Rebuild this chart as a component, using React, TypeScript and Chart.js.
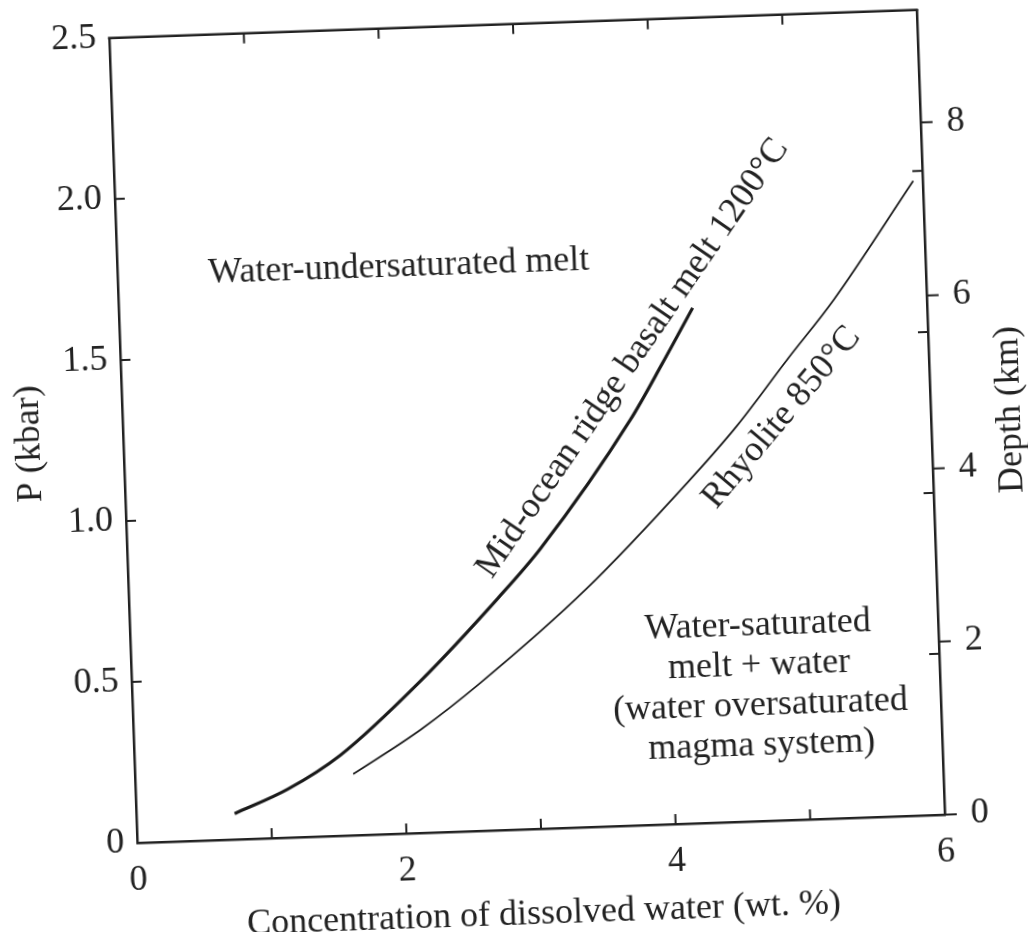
import React, { useEffect, useRef } from 'react';
import { Chart, registerables } from 'chart.js';

Chart.register(...registerables);

// ---- data ----
const morbWater = [0.73, 1.13, 1.53, 2.14, 2.74, 3.07, 3.77, 4.02, 4.26];
const morbPressure = [0.08, 0.15, 0.25, 0.47, 0.72, 0.87, 1.26, 1.43, 1.6];
const rhyoliteWater = [1.62, 2.13, 2.59, 3.4, 4.18, 4.56, 4.95, 5.31, 5.93];
const rhyolitePressure = [0.19, 0.32, 0.46, 0.74, 1.06, 1.23, 1.43, 1.61, 1.97];

const xTickLabels = ['0', '', '2', '', '4', '', '6'];
const pressureTickLabels = ['0', '0.5', '1.0', '1.5', '2.0', '2.5'];
const depthTickLabels = ['0', '2', '4', '6', '8'];
const KM_PER_KBAR = 3.72;

const xTitle = 'Concentration of dissolved water (wt. %)';
const yTitle = 'P (kbar)';
const y2Title = 'Depth (km)';

const regionLabels = [
  { lines: ['Water-undersaturated melt'], x: 2.09, y: 1.76, angle: 0 },
  { lines: ['Water-saturated', 'melt + water', '(water oversaturated', 'magma system)'], x: 4.66, y: 0.421, angle: 0 },
  { lines: ['Mid-ocean ridge basalt melt 1200°C'], x: 3.8, y: 1.45, angle: -53.5 },
  { lines: ['Rhyolite 850°C'], x: 4.89, y: 1.25, angle: -48 },
];

const INK = '#222222';
const FONT = '"Liberation Serif", "Times New Roman", serif';

const decorPlugin = {
  id: 'decor',
  afterDraw(chart: any) {
    const { ctx, chartArea } = chart;
    const { left, right, top, bottom } = chartArea;
    const xs = chart.scales.x;
    const ys = chart.scales.y;
    const ds = chart.scales.y2;
    ctx.save();
    ctx.strokeStyle = INK;
    ctx.lineCap = 'butt';
    // top border
    ctx.lineWidth = 2.5;
    ctx.beginPath();
    ctx.moveTo(left - 1.25, top);
    ctx.lineTo(right + 1.25, top);
    ctx.stroke();
    // inward ticks
    ctx.lineWidth = 2;
    const tl = 10;
    xs.ticks.forEach((t: any) => {
      if (t.value <= xs.min || t.value >= xs.max) return;
      const px = xs.getPixelForValue(t.value);
      ctx.beginPath();
      ctx.moveTo(px, bottom);
      ctx.lineTo(px, bottom - tl);
      ctx.moveTo(px, top);
      ctx.lineTo(px, top + tl);
      ctx.stroke();
    });
    ys.ticks.forEach((t: any) => {
      if (t.value <= ys.min || t.value >= ys.max) return;
      const py = ys.getPixelForValue(t.value);
      ctx.beginPath();
      ctx.moveTo(left, py);
      ctx.lineTo(left + tl, py);
      ctx.moveTo(right, py);
      ctx.lineTo(right - tl, py);
      ctx.stroke();
    });
    // outward depth ticks on the right
    ds.ticks.forEach((t: any) => {
      const py = ds.getPixelForValue(t.value);
      ctx.beginPath();
      ctx.moveTo(right, py);
      ctx.lineTo(right + 12, py);
      ctx.stroke();
    });
    // region / curve labels
    ctx.fillStyle = INK;
    ctx.font = `36px ${FONT}`;
    ctx.textAlign = 'center';
    ctx.textBaseline = 'middle';
    regionLabels.forEach((lab) => {
      const px = xs.getPixelForValue(lab.x);
      const py = ys.getPixelForValue(lab.y);
      ctx.save();
      ctx.translate(px, py);
      ctx.rotate((lab.angle * Math.PI) / 180);
      const lh = 40;
      const n = lab.lines.length;
      lab.lines.forEach((line, i) => {
        ctx.fillText(line, 0, (i - (n - 1) / 2) * lh);
      });
      ctx.restore();
    });
    // right axis title, reading bottom to top
    ctx.save();
    ctx.translate(right + 80, (top + bottom) / 2);
    ctx.rotate(-Math.PI / 2);
    ctx.fillText(y2Title, 0, 0);
    ctx.restore();
    ctx.restore();
  },
};

export default function App() {
  const ref = useRef<HTMLCanvasElement | null>(null);
  useEffect(() => {
    if (!ref.current) return;
    const tickFont = { family: FONT, size: 36, lineHeight: 0.88 };
    const titleFont = { family: FONT, size: 36 };
    const chart = new Chart(ref.current, {
      type: 'line',
      data: {
        datasets: [
          {
            label: 'Mid-ocean ridge basalt melt 1200°C',
            data: morbWater.map((x, i) => ({ x, y: morbPressure[i] })),
            borderColor: '#1a1a1a',
            borderWidth: 3.2,
            pointRadius: 0,
            cubicInterpolationMode: 'monotone',
            fill: false,
          },
          {
            label: 'Rhyolite 850°C',
            data: rhyoliteWater.map((x, i) => ({ x, y: rhyolitePressure[i] })),
            borderColor: '#1a1a1a',
            borderWidth: 1.8,
            pointRadius: 0,
            cubicInterpolationMode: 'monotone',
            fill: false,
          },
        ],
      },
      options: {
        animation: false,
        responsive: false,
        maintainAspectRatio: false,
        devicePixelRatio: 1,
        layout: { padding: { left: 0, right: 0, top: 0, bottom: 0 } },
        plugins: { legend: { display: false }, tooltip: { enabled: false }, title: { display: false } },
        scales: {
          x: {
            type: 'linear',
            min: 0,
            max: 6,
            afterFit: (s: any) => {
              s.height = 103;
            },
            ticks: {
              stepSize: 1,
              autoSkip: false,
              maxRotation: 0,
              padding: 22,
              color: INK,
              font: tickFont,
              callback: (_v: any, i: number) => xTickLabels[i],
            },
            grid: { display: false, drawTicks: false },
            border: { display: true, color: INK, width: 2.5 },
            title: { display: true, text: xTitle, color: INK, font: titleFont, padding: { top: 0, bottom: -4 } },
          },
          y: {
            type: 'linear',
            position: 'left',
            min: 0,
            max: 2.5,
            afterFit: (s: any) => {
              s.width = 115;
            },
            ticks: {
              stepSize: 0.5,
              autoSkip: false,
              padding: 0,
              color: INK,
              font: tickFont,
              callback: (_v: any, i: number) => pressureTickLabels[i],
            },
            grid: { display: false, drawTicks: true, tickLength: 13 },
            border: { display: true, color: INK, width: 2.5 },
            title: { display: true, text: yTitle, color: INK, font: titleFont, padding: { top: 0, bottom: 0 } },
          },
          y2: {
            type: 'linear',
            position: 'right',
            display: true,
            min: 0,
            max: 2.5 * KM_PER_KBAR,
            afterFit: (s: any) => {
              s.width = 97;
            },
            ticks: {
              stepSize: 2,
              includeBounds: false,
              autoSkip: false,
              padding: 0,
              color: INK,
              font: tickFont,
              callback: (_v: any, i: number) => depthTickLabels[i] ?? '',
            },
            grid: { display: false, drawTicks: true, tickLength: 26 },
            border: { display: true, color: INK, width: 2.5 },
          },
        },
      } as any,
      plugins: [decorPlugin],
    });
    return () => chart.destroy();
  }, []);
  return (
    <div style={{ position: 'relative', width: 1020, height: 924, overflow: 'hidden', background: '#fff' }}>
      <canvas
        ref={ref}
        width={1020}
        height={924}
        style={{
          position: 'absolute',
          left: 0,
          top: 0,
          width: 1020,
          height: 924,
          transform: 'rotate(-2deg)',
          transformOrigin: '519px 418.5px',
        }}
      />
    </div>
  );
}
